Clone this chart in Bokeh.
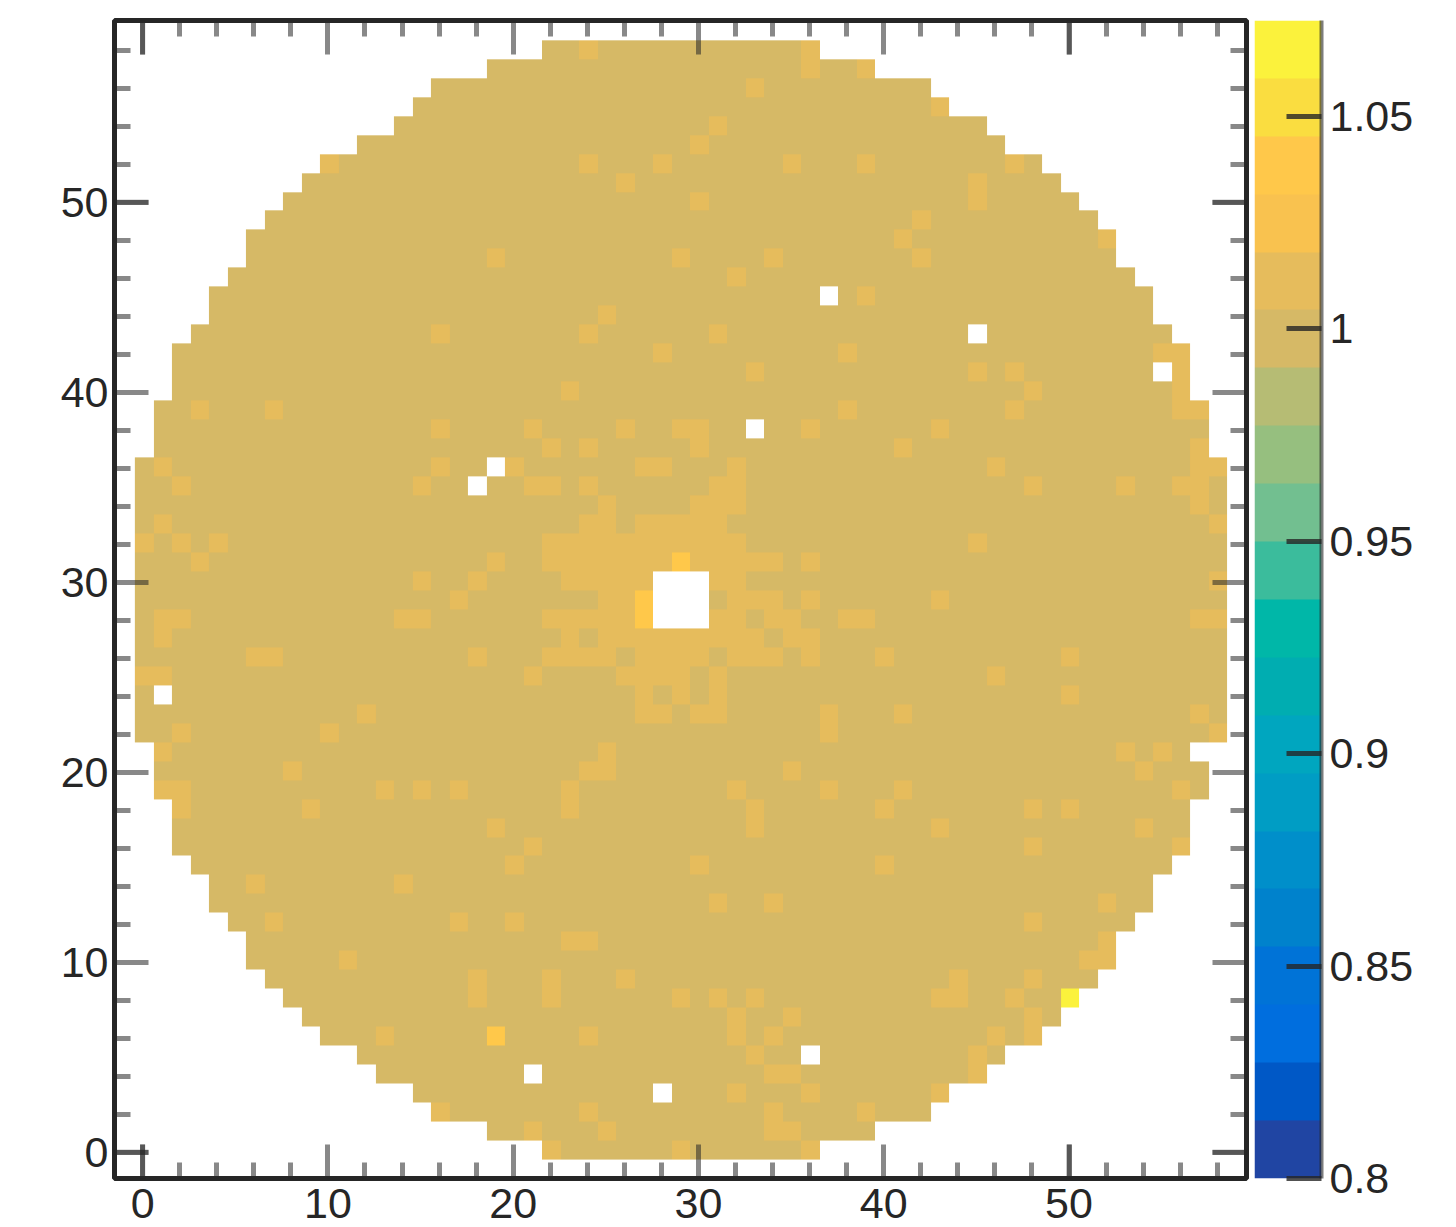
import numpy as np
from bokeh.embed import file_html
from bokeh.layouts import row
from bokeh.models import FixedTicker, LinearAxis, LinearColorMapper, Range1d
from bokeh.plotting import figure
from bokeh.resources import INLINE

# leftmost / rightmost filled column of each row 0..58
row_left = [22,19,16,15,13,12,10,9,8,7,6,6,5,4,4,3,2,2,2,1,1,1,
            0,0,0,0,0,0,0,0,0,0,0,0,0,0,0,
            1,1,1,2,2,2,3,4,4,5,6,6,7,8,9,10,12,14,15,16,19,22]
row_right = [36,39,42,43,45,46,48,49,50,51,52,52,53,54,54,55,56,56,56,57,57,56,
             58,58,58,58,58,58,58,58,58,58,58,58,58,58,58,
             57,57,57,56,56,56,55,54,54,53,52,52,51,50,49,48,46,45,43,42,39,36]

# columns that lie one colour band above the bulk, listed per row
light_cells = {
    58:[24,36], 57:[36,39], 56:[33], 55:[43], 54:[31], 53:[30],
    52:[10,24,28,35,39,47], 51:[26,45], 50:[30,45], 49:[42], 48:[41,52],
    47:[19,29,34,42], 46:[32], 45:[39], 44:[25], 43:[16,24,31],
    42:[28,38,55,56], 41:[33,45,47,56], 40:[23,48,56], 39:[3,7,38,47,56,57],
    38:[16,21,26,29,30,36,43], 37:[22,24,30,41,57],
    36:[1,16,20,27,28,32,46,57,58], 35:[2,15,21,22,24,31,32,48,53,56,57],
    34:[25,30,31,32,57], 33:[1,24,25,27,28,29,30,31,58],
    32:[0,2,4,22,23,24,25,26,27,28,29,30,31,32,45],
    31:[3,19,22,23,24,25,26,27,28,30,31,32,33,34,36],
    30:[15,18,23,24,25,26,27,31,32,58], 29:[17,25,26,32,33,34,36,43],
    28:[1,2,14,15,22,23,24,25,26,31,32,34,35,38,39,57,58],
    27:[1,23,25,26,27,28,29,30,31,32,33,35,36],
    26:[6,7,18,22,23,24,25,27,28,29,30,32,33,34,36,40,50],
    25:[0,1,21,26,27,28,29,31,46], 24:[27,29,31,50],
    23:[12,27,28,30,31,37,41,57], 22:[2,10,37,58], 21:[1,25,53,55],
    20:[8,24,25,35,54], 19:[1,2,13,15,17,23,32,37,41,56],
    18:[2,9,23,33,40,48,50], 17:[19,33,43,54], 16:[21,48,56], 15:[20,30,40],
    14:[6,14], 13:[31,34,52], 12:[7,17,20,48], 11:[23,24,52], 10:[11,51,52],
    9:[18,22,26,44,48], 8:[18,22,29,31,33,43,44,47], 7:[32,35,48],
    6:[13,24,32,34,46,48], 5:[33,45], 4:[34,35,45], 3:[32,36,43],
    2:[16,24,34,39], 1:[21,25,34,35], 0:[22,29,36],
}
bright_cells = [(29,31),(27,29),(27,28),(19,6)]
yellow_cells = [(50,8)]
empty_cells = [(37,45),(45,43),(55,41),(33,38),(19,36),(18,35),(1,24),(36,5),(21,4),(28,3),
               (28,30),(29,30),(30,30),(28,29),(29,29),(30,29),(28,28),(29,28),(30,28)]

bulk_value = 1.0
light_value = 1.011
bright_value = 1.04
yellow_value = 1.065

z_low = 0.8
z_high = 1.0726
palette = ["#2045A3","#0058C6","#006EDE","#0073D7","#0082CC","#008FCA","#009DC4","#00A6BF",
           "#00ADB1","#00B7A8","#3BBC9C","#72BF90","#96BF7F","#B6BC74","#D6B966","#E6BC5C",
           "#F9C24F","#FFC84A","#FADD40","#FBF23C"]

major_ticks = [0,10,20,30,40,50]
minor_ticks = [2,4,6,8,12,14,16,18,22,24,26,28,32,34,36,38,42,44,46,48,52,54,56,58]
dark_ticks = [0,50]
scale_ticks = [0.8,0.85,0.9,0.95,1.0,1.05]
scale_labels = {0.8:"0.8",0.85:"0.85",0.9:"0.9",0.95:"0.95",1.0:"1",1.05:"1.05"}

FONT = "Liberation Sans"
INK = "#262626"

z = np.full((59,59), np.nan)
for r,(a,b) in enumerate(zip(row_left,row_right)):
    z[r,a:b+1] = bulk_value
for r,cols in light_cells.items():
    z[r,cols] = light_value
for c,r in bright_cells:
    z[r,c] = bright_value
for c,r in yellow_cells:
    z[r,c] = yellow_value
for c,r in empty_cells:
    z[r,c] = np.nan

mapper = LinearColorMapper(palette=palette, low=z_low, high=z_high, nan_color=(0,0,0,0))

XR = (-1.52,59.58)
YR = (-1.38,59.56)
p = figure(width=1252, height=1227, x_range=Range1d(*XR), y_range=Range1d(*YR),
           output_backend="svg", toolbar_location=None, x_axis_location=None, y_axis_location=None,
           min_border_left=114, min_border_right=6, min_border_top=20, min_border_bottom=49)
p.grid.visible = False
p.background_fill_color = None
p.border_fill_color = None
p.outline_line_color = INK
p.outline_line_width = 5

p.image(image=[z], x=-0.42, y=-0.384, dw=58.95, dh=58.9, color_mapper=mapper)

ticker = FixedTicker(ticks=major_ticks, minor_ticks=minor_ticks)

def make_axis(labels):
    ax = LinearAxis(ticker=ticker)
    ax.axis_line_color = None
    ax.major_tick_in = 34
    ax.major_tick_out = 0
    ax.minor_tick_in = 16
    ax.minor_tick_out = 0
    ax.major_tick_line_color = INK
    ax.major_tick_line_alpha = 0.55
    ax.major_tick_line_width = 5
    ax.minor_tick_line_color = INK
    ax.minor_tick_line_alpha = 0.55
    ax.minor_tick_line_width = 5
    if labels:
        ax.major_label_text_font = FONT
        ax.major_label_text_font_size = "43px"
        ax.major_label_text_color = INK
    else:
        ax.major_label_overrides = {t:"" for t in major_ticks}
        ax.major_label_text_font_size = "0px"
    return ax

bottom = make_axis(True); bottom.major_label_standoff = 10
left = make_axis(True); left.major_label_standoff = 6
p.add_layout(bottom,"below")
p.add_layout(left,"left")
p.add_layout(make_axis(False),"above")
p.add_layout(make_axis(False),"right")

# the ticks at 0 and 50 look darker in the reference
lx = 34/18.52
ly = 34/19.0
for t in dark_ticks:
    p.segment(x0=[t,t], y0=[YR[0],YR[1]], x1=[t,t], y1=[YR[0]+ly,YR[1]-ly],
              line_color=INK, line_alpha=0.5, line_width=5)
    p.segment(x0=[XR[0],XR[1]], y0=[t,t], x1=[XR[0]+lx,XR[1]-lx], y1=[t,t],
              line_color=INK, line_alpha=0.5, line_width=5)

# colour scale
step = (z_high-z_low)/len(palette)
band_values = [[z_low+step*(i+0.5)] for i in range(len(palette))]
cb = figure(width=204, height=1227, x_range=Range1d(0,1), y_range=Range1d(z_low,z_high),
            output_backend="svg", toolbar_location=None, x_axis_location=None, y_axis_location=None,
            min_border_left=2, min_border_right=135, min_border_top=20, min_border_bottom=49)
cb.grid.visible = False
cb.outline_line_color = None
cb.border_fill_color = None
cb.image(image=[np.array(band_values)], x=0, y=z_low, dw=1, dh=z_high-z_low, color_mapper=mapper)
ax = LinearAxis(ticker=FixedTicker(ticks=scale_ticks, minor_ticks=[]))
ax.major_label_overrides = scale_labels
ax.axis_line_color = INK
ax.axis_line_alpha = 0.6
ax.axis_line_width = 4
ax.major_tick_in = 35
ax.major_tick_out = 0
ax.major_tick_line_color = INK
ax.major_tick_line_alpha = 0.8
ax.major_tick_line_width = 5
ax.major_label_standoff = 8
ax.major_label_text_font = FONT
ax.major_label_text_font_size = "43px"
ax.major_label_text_color = INK
cb.add_layout(ax,"right")

page = row(p, cb, spacing=0)
open("out.html","w").write(file_html(page, INLINE))
